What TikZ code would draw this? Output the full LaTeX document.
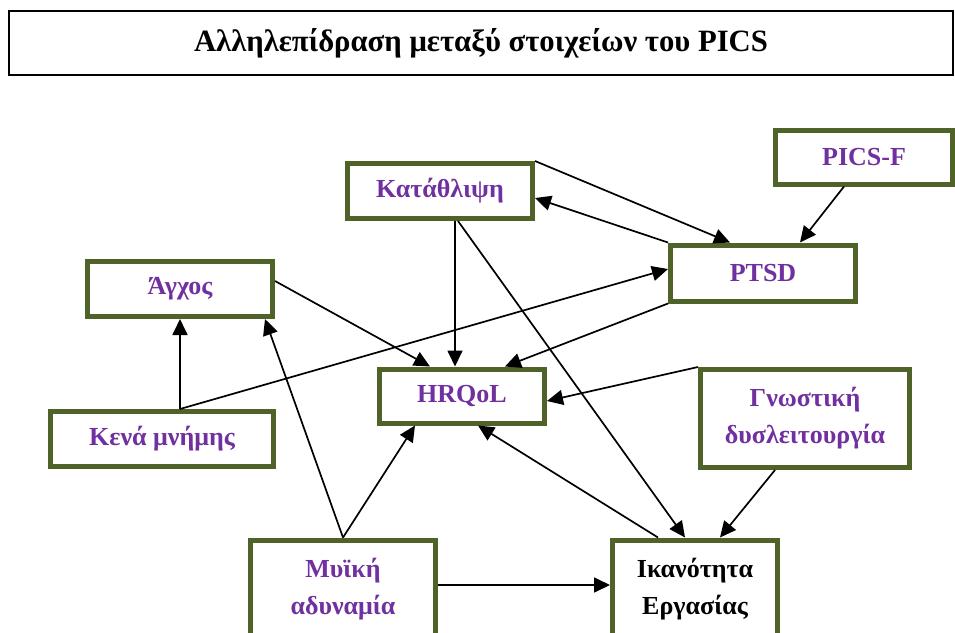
\documentclass[tikz,border=0pt]{standalone}
\usepackage{fontspec}
\setmainfont{Liberation Serif}
\usetikzlibrary{arrows.meta,calc}
\definecolor{olivebox}{HTML}{4F6228}
\definecolor{purpletxt}{HTML}{7030A0}
\begin{document}
\begin{tikzpicture}[x=1pt,y=-1pt,
  box/.style={draw=olivebox,line width=5pt,fill=white,inner sep=0pt,
    font=\bfseries\fontsize{26}{37}\selectfont,text=purpletxt,align=center},
  conn/.style={line width=1.7pt,-{Triangle[length=16pt,width=15pt]}}]
\useasboundingbox (0,0) rectangle (955,632);
\node[draw=black,line width=1.8pt,minimum width=944pt,minimum height=64pt,inner sep=0pt,
  font=\bfseries\fontsize{31}{35}\selectfont] (title) at (481,43) {\scalebox{0.99}[1]{Αλληλεπίδραση μεταξύ στοιχείων του PICS}};
\node[box,minimum width=185pt,minimum height=55pt] (kat) at (440,191) {Κατάθλιψη};
\node[box,minimum width=177pt,minimum height=54pt] (picsf) at (864,157) {PICS-F};
\node[box,minimum width=185pt,minimum height=56pt] (ptsd) at (763,273) {PTSD};
\node[box,minimum width=185pt,minimum height=55pt] (agxos) at (180,289) {Άγχος};
\node[box,minimum width=223pt,minimum height=55pt] (kena) at (162,439) {Κενά μνήμης};
\node[box,minimum width=165pt,minimum height=54pt] (hrqol) at (462,396) {HRQoL};
\node[box,minimum width=209pt,minimum height=98pt] (gnos) at (805,418.5) {Γνωστική\\δυσλειτουργία};
\node[box,minimum width=185pt,minimum height=98pt] (myiki) at (343,589) {Μυϊκή\\αδυναμία};
\node[box,minimum width=165pt,minimum height=98pt,text=black] (ikan) at (695,589) {Ικανότητα\\Εργασίας};
\coordinate (kenatop) at ([xshift=18pt]kena.north);
\draw[conn] (kat.north east) -- ([xshift=-33pt]ptsd.north);
\draw[conn] (ptsd.north west) -- ([yshift=-7pt]kat.east);
\draw[conn] ([xshift=-20pt]picsf.south) -- ([xshift=37pt]ptsd.north);
\draw[conn] ([xshift=15pt]kat.south) -- ([xshift=-7pt]hrqol.north);
\draw[conn] ([xshift=18pt]kat.south) -- ([xshift=-10pt]ikan.north);
\draw[conn] ([yshift=8pt]agxos.east) -- ([xshift=-32pt]hrqol.north);
\draw[conn] (kenatop) -- (agxos.south);
\draw[conn] (kenatop) -- ([yshift=4pt]ptsd.west);
\draw[conn] (ptsd.south west) -- ([xshift=43pt]hrqol.north);
\draw[conn] (gnos.north west) -- ([yshift=-5pt]hrqol.east);
\draw[conn] ([xshift=-30pt]gnos.south) -- ([xshift=25pt]ikan.north);
\draw[conn] (myiki.north) -- ([xshift=85pt]agxos.south);
\draw[conn] (myiki.north) -- ([xshift=-47pt]hrqol.south);
\draw[conn] ([xshift=-37pt]ikan.north) -- ([xshift=16pt]hrqol.south);
\draw[conn] ([yshift=4pt]myiki.east) -- ([yshift=4pt]ikan.west);
\end{tikzpicture}
\end{document}
